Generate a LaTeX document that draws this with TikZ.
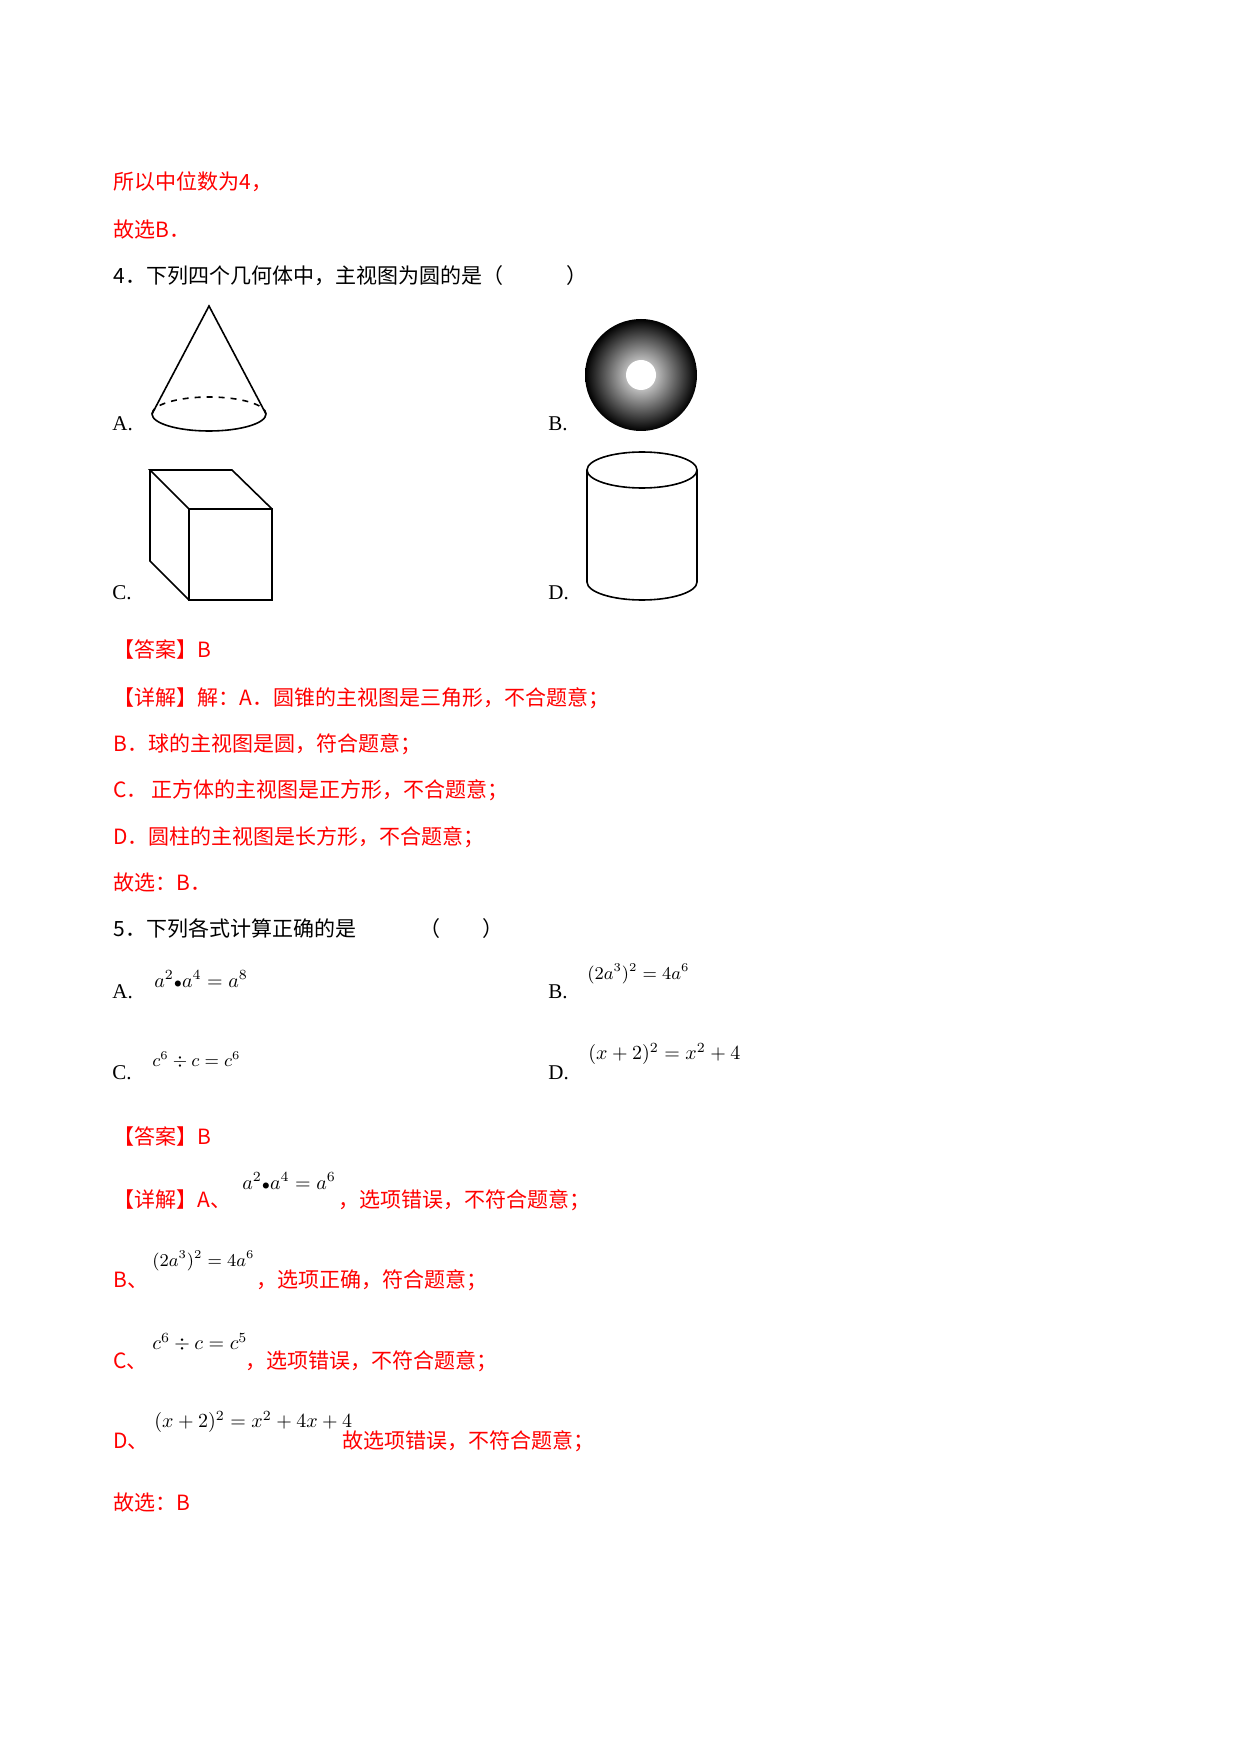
\documentclass[tikz,border=0pt]{standalone}
\usepackage{fontspec}
\setmainfont{Liberation Serif}
\newfontfamily\cjk{Noto Sans CJK SC}
\usetikzlibrary{arrows.meta}
\begin{document}
\begin{tikzpicture}[x=0.5pt,y=-0.5pt,
  txt/.style={anchor=west,inner sep=0pt,font=\fontsize{10.5}{12}\selectfont\cjk},
  ans/.style={txt,text=red},
  lbl/.style={anchor=west,inner sep=0pt,font=\fontsize{10.5}{12}\selectfont},
  fml/.style={anchor=west,inner sep=0pt}]
\useasboundingbox (0,0) rectangle (1240,1754);
% worked answer, previous question
\node[ans] (l1) at (113,182) {所以中位数为4，};
\node[ans] (l2) at (113,230) {故选B．};
% question 4
\node[txt] (q4) at (113,276) {4．下列四个几何体中，主视图为圆的是（\hspace{3em}）};
\node[lbl] (la) at (112,424) {A.};
\node[lbl] (lb) at (548,424) {B.};
\node[lbl] (lc) at (112,593) {C.};
\node[lbl] (ld) at (548,593) {D.};
% cone
\coordinate (apex) at (209,306);
\draw[thick] (152,414) -- (apex) -- (266,414);
\draw[thick] (152,414) arc[start angle=180,end angle=0,x radius=57,y radius=17];
\draw[thick,dashed] (152,414) arc[start angle=180,end angle=360,x radius=57,y radius=17];
% sphere
\shade[inner color=white,outer color=black] (641,375) circle[radius=56];
\fill[white] (641,375) circle[radius=15];
% cube
\draw[thick] (189,509) rectangle (272,600);
\draw[thick] (189,509) -- (150,470) -- (232,470) -- (272,509);
\draw[thick] (150,470) -- (150,561) -- (189,600);
% cylinder
\draw[thick] (642,470) ellipse[x radius=55,y radius=18];
\draw[thick] (587,470) -- (587,582) arc[start angle=180,end angle=0,x radius=55,y radius=18] -- (697,470);
% answer to question 4
\node[ans] (a4) at (113,650) {【答案】B};
\node[ans] (d1) at (113,698) {【详解】解：A．圆锥的主视图是三角形，不合题意；};
\node[ans] (d2) at (113,744) {B．球的主视图是圆，符合题意；};
\node[ans] (d3) at (113,790) {C．\,正方体的主视图是正方形，不合题意；};
\node[ans] (d4) at (113,837) {D．圆柱的主视图是长方形，不合题意；};
\node[ans] (d5) at (113,883) {故选：B．};
% question 5
\node[txt] (q5) at (113,929) {5．下列各式计算正确的是\hspace{3em}（\hspace{2em}）};
\node[lbl] (oa) at (112,992) {A.};
\node[fml] (fa) at (154,979) {$a^2{\scriptstyle\bullet}a^4=a^8$};
\node[lbl] (ob) at (548,992) {B.};
\node[fml,font=\small] (fb) at (587,974) {$(2a^3)^2=4a^6$};
\node[lbl] (oc) at (112,1073) {C.};
\node[fml,font=\small] (fc) at (152,1060) {$c^6\div c=c^6$};
\node[lbl] (od) at (548,1073) {D.};
\node[fml] (fd) at (588,1054) {$(x+2)^2=x^2+4$};
% answer to question 5
\node[ans] (a5) at (113,1137) {【答案】B};
\node[ans] (e1) at (113,1200) {【详解】A、};
\node[fml] (g1) at (242,1181) {$a^2{\scriptstyle\bullet}a^4=a^6$};
\node[ans] (t1) at (338,1200) {，选项错误，不符合题意；};
\node[ans] (e2) at (113,1280) {B、};
\node[fml,font=\small] (g2) at (152,1261) {$(2a^3)^2=4a^6$};
\node[ans] (t2) at (256,1280) {，选项正确，符合题意；};
\node[ans] (e3) at (113,1361) {C、};
\node[fml] (g3) at (152,1342) {$c^6\div c=c^5$};
\node[ans] (t3) at (245,1361) {，选项错误，不符合题意；};
\node[ans] (e4) at (113,1441) {D、};
\node[fml] (g4) at (154,1422) {$(x+2)^2=x^2+4x+4$};
\node[ans] (t4) at (342,1441) {故选项错误，不符合题意；};
\node[ans] (e5) at (113,1503) {故选：B};
\end{tikzpicture}
\end{document}
